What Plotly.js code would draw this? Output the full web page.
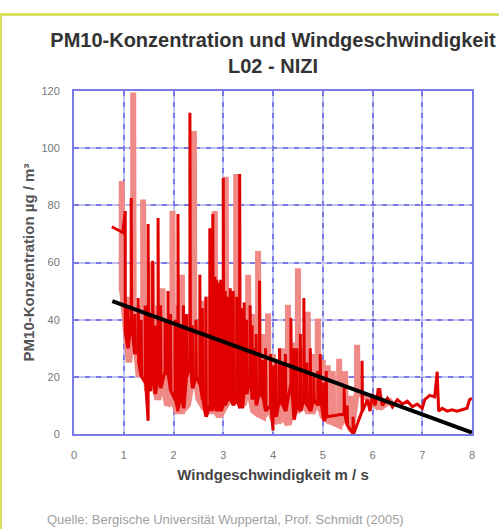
<!DOCTYPE html>
<html>
<head>
<meta charset="utf-8">
<script src="https://cdn.plot.ly/plotly-3.0.1.min.js"></script>
<style>
  html, body { margin: 0; padding: 0; background: #ffffff; overflow: hidden; }
  #wrap { position: relative; width: 499px; height: 529px; }
  #chart { position: absolute; left: 0; top: 0; width: 499px; height: 529px; }
  #frame { position: absolute; left: 0; top: 13px; width: 510px; height: 530px;
           border-top: 3px solid #d9e05e; border-left: 2px solid #d9e05e;
           pointer-events: none; box-sizing: border-box; }
</style>
</head>
<body>
<div id="wrap">
  <div id="chart"></div>
  <div id="frame"></div>
</div>
<script>
// ---- data ----
const xTicks = [0, 1, 2, 3, 4, 5, 6, 7, 8];
const yTicks = [0, 20, 40, 60, 80, 100, 120];

// light red series (wind speed m/s, PM10 µg/m³)
const salmonX = [0.96,0.96,0.97, 1.1,1.1,1.11, 1.19,1.19,1.2, 1.3,1.3,1.31, 1.39,1.39,1.4,
  1.47,1.47,1.48, 1.57,1.57,1.58, 1.68,1.68,1.69, 1.78,1.78,1.79, 1.87,1.87,1.88,
  1.98,1.98,1.99, 2.06,2.06,2.07, 2.17,2.17,2.18, 2.28,2.28,2.29, 2.41,2.41,2.42,
  2.5,2.5,2.51, 2.61,2.61,2.62, 2.7,2.7,2.71, 2.83,2.83,2.84, 2.92,2.92,2.93,
  3.05,3.05,3.06, 3.12,3.12,3.13, 3.18,3.18,3.19, 3.26,3.26,3.27, 3.4,3.4,3.41,
  3.5,3.5,3.51, 3.6,3.6,3.61, 3.7,3.7,3.71, 3.8,3.8,3.81, 3.9,3.9,3.91,
  4.0,4.0,4.01, 4.1,4.1,4.11, 4.2,4.2,4.21, 4.3,4.3,4.31, 4.4,4.4,4.41,
  4.5,4.5,4.51, 4.6,4.6,4.61, 4.7,4.7,4.71, 4.8,4.8,4.81, 4.9,4.9,4.91,
  5.0,5.0,5.01, 5.1,5.1,5.11, 5.2,5.2,5.21, 5.33,5.33,5.34, 5.45,5.45,5.46,
  5.57,5.57,5.58, 5.69,5.69,5.7, 6.13,6.13,6.14, 6.4];
const salmonY = [50,88.5,50, 25,48,25, 38,119.5,38, 20,45,20, 32,82,32,
  15,40,15, 19,60,19, 12,45,12, 18,51,18, 10,40,10,
  12,78,12, 8,45,8, 8,55.7,8, 10,42,10, 23,106,23,
  12,40,12, 9,46.6,9, 8,48,8, 8,78,8, 6,52,6,
  10,90,10, 12,45,12, 13,48,13, 12.7,91,12.7, 10,40,10,
  17,55.7,17, 8,42,8, 6.8,64,6.8, 6,35,6, 9.2,42.2,9.2,
  5,28,5, 4,24,4, 6,30,6, 3.2,45.2,3.2, 8,32,8,
  8.2,58,8.2, 10,30,10, 8,42.8,8, 8,28,8, 11.6,40.4,11.6,
  6,26,6, 4.6,24,4.6, 4,22,4, 3,26.3,3, 6,22,6,
  1.2,13.4,1.2, 15,31.2,15, 9,16,9, 12];

// dark red series
const redX = [0.76,0.98,1.03,1.03, 1.08,1.08,1.09, 1.15,1.15,1.16, 1.22,1.22,1.23,
  1.29,1.29,1.3, 1.35,1.35,1.36, 1.43,1.43,1.44, 1.49,1.49,1.5, 1.53,1.53,1.54,
  1.58,1.58,1.59, 1.63,1.63,1.64, 1.69,1.69,1.7, 1.74,1.74,1.75, 1.83,1.83,1.84,
  1.89,1.89,1.9, 1.94,1.94,1.95, 2.03,2.03,2.04, 2.09,2.09,2.1, 2.14,2.14,2.15,
  2.2,2.2,2.21, 2.26,2.26,2.27, 2.33,2.33,2.34, 2.38,2.38,2.39, 2.45,2.45,2.46,
  2.53,2.53,2.54, 2.58,2.58,2.59, 2.65,2.65,2.66, 2.73,2.73,2.74, 2.77,2.77,2.78,
  2.79,2.79,2.8, 2.83,2.83,2.84, 2.87,2.87,2.88, 2.91,2.91,2.92, 2.95,2.95,2.96,
  3.0,3.0,3.01, 3.04,3.04,3.05, 3.08,3.08,3.09, 3.14,3.14,3.15, 3.2,3.2,3.21,
  3.27,3.27,3.28, 3.33,3.33,3.34, 3.38,3.38,3.39, 3.42,3.42,3.43, 3.47,3.47,3.48,
  3.54,3.54,3.55, 3.58,3.58,3.59, 3.62,3.62, 3.66,3.66,3.67, 3.73,3.73,3.74,
  3.79,3.79,3.8, 3.85,3.85,3.86, 3.95,3.95,3.96, 4.0,4.0,4.01, 4.06,4.06,4.07,
  4.13,4.13,4.14, 4.19,4.19,4.2, 4.25,4.25,4.26, 4.36,4.36,4.37, 4.42,4.42,4.43,
  4.48,4.48,4.49, 4.55,4.55,4.56, 4.62,4.62,4.63, 4.68,4.68,4.69, 4.75,4.75,4.76,
  4.82,4.82,4.83, 4.9,4.9,4.91, 4.95,4.95,4.96, 5.02,5.02,5.03, 5.07,5.07,5.08,
  5.43,5.43,5.44, 5.49,5.49,5.5, 5.61,5.61,5.62, 5.79,5.79,5.8,
  5.9,5.95,6.0,6.05,6.13,6.2,6.3,6.4,6.5,6.6,6.7,6.8,6.9,7.0,7.05,7.15,7.25,
  7.3,7.33,7.4,7.5,7.6,7.7,7.8,7.9,7.95,8.0];
const redY = [72.5,70.5,78,36, 30,45,30, 40.6,82.6,38, 28,42,28,
  29,47.6,25, 20,40,20, 18,45,18, 4.6,73.5,25, 15,42,15,
  25,60.6,20, 14,38,14, 19.7,75.6,20, 16,45,16, 22,40,22,
  20.7,50,20, 15,42,15, 12,40,12, 8,77,9, 14,38,14,
  9,45,9, 20,42,20, 25.6,112.4,24, 16,38,16, 20,40,20,
  17.3,55.7,17, 12,44,12, 6,48,6, 10,72,12, 8,55,8,
  12,77,10, 9,55,9, 8,54,8, 10,53,10, 8,54,8,
  10,89.6,12, 10,50,10, 12,48,12, 12,51,12, 10,50,10,
  12,48,12, 9,91,15, 9,44,9, 15,46,15, 14,40,14,
  20,45,20, 12,38,12, 30,22, 10,35,10, 15,53.6,15,
  12.7,26,12.7, 8,30,8, 10,28,10, 1.2,24,10, 6,26,6,
  12,30,12, 10,24.2,10, 8,28,8, 18,40.6,18, 5,30,5,
  10,30,10, 8,35,8, 12,47.6,12, 10,25,10, 8,30,8,
  12,20,12, 10,22,10, 12,28,12, 4.6,18,4.6, 6,22,6,
  7,16.2,7, 3,10,3, 0,6,0, 8,25.6,8,
  12,8,14,10,16,10,12.5,9.5,12,10.5,11.5,9.5,10.5,9,12,13.5,13,
  21.8,8,9,8,8.5,8,8.5,9,12,12.5];

// linear trend line
const trendX = [0.77, 8];
const trendY = [46.5, 0.5];

const titleText = 'PM10-Konzentration und Windgeschwindigkeit<br>L02 - NIZI';
const xTitle = 'Windgeschwindigkeit m / s';
const yTitle = 'PM10-Konzentration µg / m³';
const sourceText = 'Quelle: Bergische Universität Wuppertal, Prof. Schmidt (2005)';

const FONT = 'Arial, "Liberation Sans", sans-serif';
const frameBlue = '#7a7ae6';
const lightBlue = '#c2c2f2';

const traces = [
  { x: salmonX, y: salmonY, type: 'scatter', mode: 'lines',
    line: { color: '#f08a86', width: 6 }, hoverinfo: 'skip' },
  { x: redX, y: redY, type: 'scatter', mode: 'lines',
    line: { color: '#e00000', width: 3 }, hoverinfo: 'skip' },
  { x: trendX, y: trendY, type: 'scatter', mode: 'lines',
    line: { color: '#000000', width: 4 }, hoverinfo: 'skip' },
  // invisible copy on overlay axes that carry the dark grid dashes
  { x: trendX, y: trendY, xaxis: 'x2', yaxis: 'y2', type: 'scatter', mode: 'lines',
    line: { color: 'rgba(0,0,0,0)', width: 0 }, hoverinfo: 'skip' }
];

const layout = {
  width: 499, height: 529,
  margin: { l: 74, r: 27, t: 91, b: 95 },
  paper_bgcolor: 'rgba(0,0,0,0)',
  plot_bgcolor: '#ffffff',
  showlegend: false,
  font: { family: FONT, color: '#555555' },
  title: {
    text: titleText,
    xref: 'paper', x: 0.5, xanchor: 'center',
    yref: 'container', y: 1 - 47 / 529, yanchor: 'top',
    font: { family: FONT, size: 20, weight: 700, color: '#333333' }
  },
  xaxis: {
    range: [0, 8], tickvals: xTicks, ticktext: xTicks.map(String),
    showgrid: true, gridcolor: lightBlue, gridwidth: 2,
    zeroline: false, showline: true, linecolor: frameBlue, linewidth: 2, mirror: true,
    ticks: '', ticklabelstandoff: 10,
    tickfont: { family: FONT, size: 11, color: '#777777' },
    title: { text: xTitle, standoff: 9,
      font: { family: FONT, size: 15, weight: 700, color: '#444444' } }
  },
  yaxis: {
    range: [0, 120], tickvals: yTicks, ticktext: yTicks.map(String),
    showgrid: true, gridcolor: lightBlue, gridwidth: 2,
    zeroline: false, showline: true, linecolor: frameBlue, linewidth: 2, mirror: true,
    ticks: '', ticklabelstandoff: 10,
    tickfont: { family: FONT, size: 11, color: '#777777' },
    title: { text: yTitle, standoff: 3,
      font: { family: FONT, size: 15, weight: 700, color: '#555555' } }
  },
  xaxis2: {
    overlaying: 'x', matches: 'x', range: [0, 8], tickvals: xTicks,
    showgrid: true, gridcolor: frameBlue, gridwidth: 2, griddash: '5px,6px',
    showticklabels: false, zeroline: false, showline: false, ticks: ''
  },
  yaxis2: {
    overlaying: 'y', matches: 'y', range: [0, 120], tickvals: yTicks,
    showgrid: true, gridcolor: frameBlue, gridwidth: 2, griddash: '5px,6px',
    showticklabels: false, zeroline: false, showline: false, ticks: ''
  },
  annotations: [{
    text: sourceText, showarrow: false,
    xref: 'paper', yref: 'paper',
    x: (45 - 74) / 398, xanchor: 'left',
    y: (434 - 519) / 343, yanchor: 'middle',
    font: { family: FONT, size: 13, color: '#a0a0a0' }
  }]
};

Plotly.newPlot('chart', traces, layout, { staticPlot: true, displayModeBar: false });
</script>
</body>
</html>
